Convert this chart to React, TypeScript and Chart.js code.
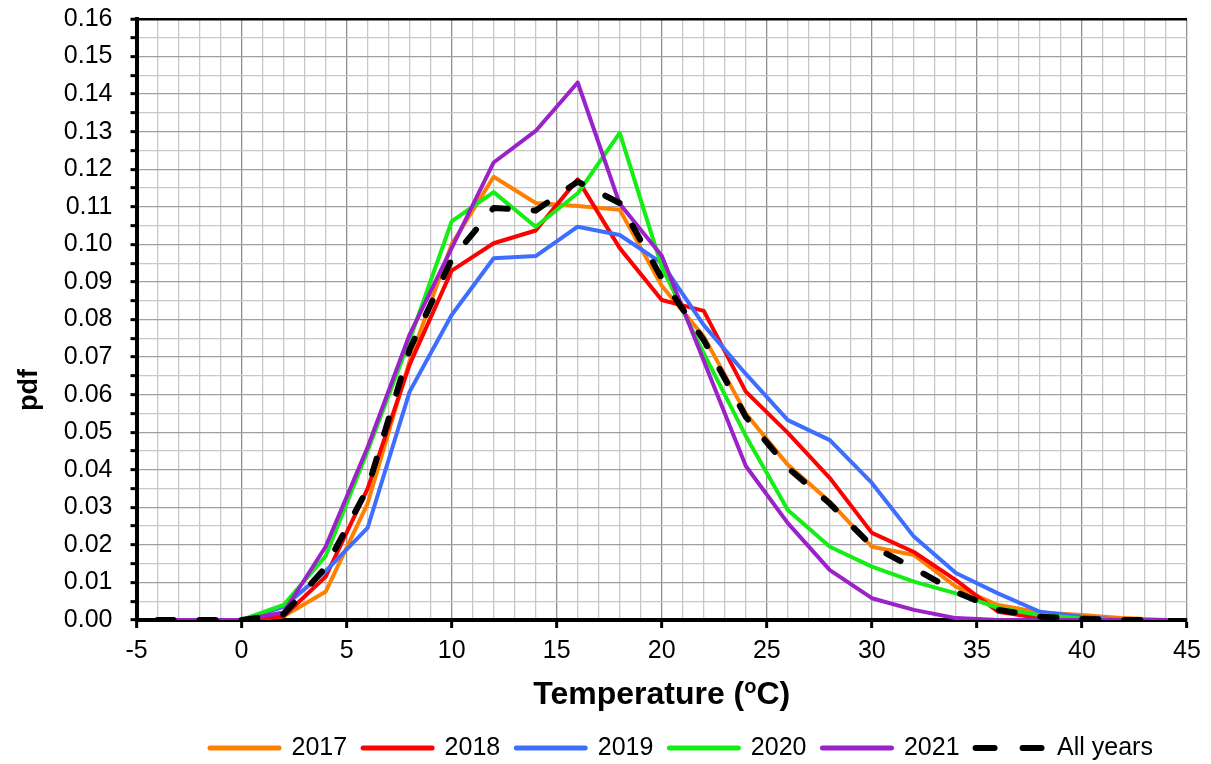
import { useEffect, useRef } from 'react';
import { Chart, registerables } from 'chart.js';

Chart.register(...registerables);

const temps = [-4, -2, 0, 2, 4, 6, 8, 10, 12, 14, 16, 18, 20, 22, 24, 26, 28, 30, 32, 34, 36, 38, 40, 42, 44];

const pdf2017 = [0, 0, 0, 0.001, 0.0075, 0.031, 0.069, 0.1, 0.118, 0.111, 0.1102, 0.1092, 0.089, 0.0755, 0.055, 0.0413, 0.0315, 0.0195, 0.0173, 0.0089, 0.004, 0.002, 0.0013, 0.0005, 0];
const pdf2018 = [0, 0, 0, 0.001, 0.0115, 0.035, 0.068, 0.093, 0.1003, 0.1037, 0.1173, 0.099, 0.0852, 0.0823, 0.0608, 0.0498, 0.0378, 0.0232, 0.0181, 0.0106, 0.0022, 0.0005, 0, 0, 0];
const pdf2019 = [0, 0, 0, 0.0035, 0.013, 0.0245, 0.0608, 0.0812, 0.0963, 0.0969, 0.1047, 0.1025, 0.095, 0.0785, 0.0655, 0.0532, 0.0479, 0.0365, 0.0222, 0.0125, 0.0071, 0.0022, 0.0009, 0, 0];
const pdf2020 = [0, 0, 0, 0.004, 0.017, 0.045, 0.0745, 0.1061, 0.1139, 0.1047, 0.1136, 0.1297, 0.094, 0.071, 0.049, 0.0293, 0.0195, 0.0142, 0.0102, 0.0071, 0.0032, 0.0013, 0.0004, 0, 0];
const pdf2021 = [0, 0, 0, 0.002, 0.0195, 0.046, 0.076, 0.099, 0.1218, 0.1302, 0.1431, 0.1108, 0.097, 0.069, 0.041, 0.0258, 0.0133, 0.0058, 0.0027, 0.0005, 0, 0, 0, 0, 0];
const pdfAll = [0, 0, 0, 0.0015, 0.014, 0.035, 0.072, 0.096, 0.1097, 0.109, 0.1167, 0.111, 0.091, 0.0745, 0.0541, 0.0405, 0.031, 0.0197, 0.0138, 0.0075, 0.0027, 0.0009, 0.0003, 0, 0];

const seriesNames = ['2017', '2018', '2019', '2020', '2021', 'All years'];
const seriesValues = [pdf2017, pdf2018, pdf2019, pdf2020, pdf2021, pdfAll];
const seriesColors = ['#FF8000', '#FF0000', '#3D6EFF', '#14EE14', '#9A22C8', '#000000'];

const xMin = -5;
const xMax = 45;
const yMin = 0;
const yMax = 0.16;

const FONT = '"Liberation Sans", Arial, Helvetica, sans-serif';

const titlesPlugin = {
  id: 'customTitles',
  afterLayout(chart: any) {
    const lg = chart.legend;
    if (lg) {
      const h = lg.height;
      lg.left = 194;
      lg.right = 1211;
      lg.width = lg.right - lg.left;
      lg.top = 719.5;
      lg.bottom = lg.top + h;
    }
  },
  afterDraw(chart: any) {
    const ctx = chart.ctx as CanvasRenderingContext2D;
    ctx.save();
    ctx.fillStyle = '#000';
    ctx.translate(30, 390);
    ctx.rotate(-Math.PI / 2);
    ctx.font = `bold 27px ${FONT}`;
    ctx.textAlign = 'center';
    ctx.textBaseline = 'middle';
    ctx.fillText('pdf', 0, 0);
    ctx.restore();

    ctx.save();
    ctx.fillStyle = '#000';
    const mainFont = `bold 32px ${FONT}`;
    const supFont = `bold 20px ${FONT}`;
    const a = 'Temperature (';
    const b = 'o';
    const c = 'C)';
    ctx.font = mainFont;
    const wa = ctx.measureText(a).width;
    const wc = ctx.measureText(c).width;
    ctx.font = supFont;
    const wb = ctx.measureText(b).width;
    const total = wa + wb + wc;
    const cx = (chart.chartArea.left + chart.chartArea.right) / 2;
    let x = cx - total / 2;
    const base = 704;
    ctx.textAlign = 'left';
    ctx.textBaseline = 'alphabetic';
    ctx.font = mainFont;
    ctx.fillText(a, x, base);
    x += wa;
    ctx.font = supFont;
    ctx.fillText(b, x, base - 11);
    x += wb;
    ctx.font = mainFont;
    ctx.fillText(c, x, base);
    ctx.restore();
  },
};

export default function App() {
  const canvasRef = useRef<HTMLCanvasElement | null>(null);

  useEffect(() => {
    const canvas = canvasRef.current;
    if (!canvas) return;

    const datasets = seriesNames.map((name, i) => {
      const isAll = i === seriesNames.length - 1;
      return {
        label: name,
        data: temps.map((t, j) => ({ x: t, y: seriesValues[i][j] })),
        borderColor: seriesColors[i],
        backgroundColor: seriesColors[i],
        borderWidth: isAll ? 6 : 4,
        borderDash: isAll ? [16, 26] : [],
        borderCapStyle: 'round' as const,
        borderJoinStyle: 'round' as const,
        pointRadius: 0,
        pointHoverRadius: 0,
        tension: 0,
        fill: false,
        order: seriesNames.length - i,
      };
    });

    const chart = new Chart(canvas, {
      type: 'line',
      data: { datasets },
      plugins: [titlesPlugin],
      options: {
        animation: false,
        responsive: false,
        devicePixelRatio: 1,
        parsing: false as any,
        layout: { padding: { left: 0, right: 24, top: 19, bottom: 0 } },
        plugins: {
          tooltip: { enabled: false },
          title: { display: false },
          legend: {
            display: true,
            position: 'bottom',
            align: 'start',
            labels: {
              usePointStyle: true,
              pointStyleWidth: 69,
              padding: 16,
              color: '#000',
              font: { family: FONT, size: 25 },
              generateLabels: () =>
                seriesNames.map((name, i) => {
                  const isAll = i === seriesNames.length - 1;
                  return {
                    text: name,
                    fillStyle: seriesColors[i],
                    strokeStyle: seriesColors[i],
                    lineWidth: isAll ? 6 : 5,
                    lineDash: isAll ? [19, 28] : [],
                    lineCap: 'round',
                    pointStyle: 'line',
                    hidden: false,
                    datasetIndex: i,
                    fontColor: '#000',
                  } as any;
                }),
            },
          },
        },
        scales: {
          x: {
            type: 'linear',
            min: xMin,
            max: xMax,
            afterFit: (scale: any) => {
              scale.height = 93;
              scale.paddingLeft = 0;
              scale.paddingRight = 0;
            },
            ticks: {
              stepSize: 1,
              autoSkip: false,
              maxRotation: 0,
              minRotation: 0,
              padding: 8,
              color: '#000',
              font: { family: FONT, size: 25 },
              callback: (v: any) => (Math.round(Number(v)) % 5 === 0 ? String(Math.round(Number(v))) : ''),
            },
            grid: {
              drawOnChartArea: true,
              drawTicks: true,
              tickLength: 8,
              tickWidth: 3,
              color: (ctx: any) => (Math.round(ctx.tick.value) % 5 === 0 ? '#8f8f8f' : '#c8c8c8'),
              lineWidth: 1.3,
              tickColor: (ctx: any) => (Math.round(ctx.tick.value) % 5 === 0 ? '#000' : 'rgba(0,0,0,0)'),
            },
            border: { display: true, color: '#000', width: 4 },
          },
          y: {
            type: 'linear',
            min: yMin,
            max: yMax,
            afterFit: (scale: any) => {
              scale.width = 136.5;
              scale.paddingTop = 0;
              scale.paddingBottom = 0;
            },
            ticks: {
              stepSize: 0.005,
              autoSkip: false,
              padding: 18,
              color: '#000',
              font: { family: FONT, size: 25 },
              callback: (v: any) => {
                const k = Math.round(Number(v) * 1000);
                return k % 10 === 0 ? (k / 1000).toFixed(2) : '';
              },
            },
            grid: {
              drawOnChartArea: true,
              drawTicks: true,
              tickLength: 6,
              tickWidth: 3,
              color: (ctx: any) => {
                const k = Math.round(ctx.tick.value * 1000);
                if (k === 160) return '#000';
                return k % 10 === 0 ? '#a0a0a0' : '#c8c8c8';
              },
              lineWidth: (ctx: any) => (Math.round(ctx.tick.value * 1000) === 160 ? 2.5 : 1.3),
              tickColor: '#000',
            },
            border: { display: true, color: '#000', width: 4 },
          },
        },
      },
    });

    return () => {
      chart.destroy();
    };
  }, []);

  return (
    <div style={{ position: 'absolute', left: 0, top: 0, width: 1211, height: 764, background: '#fff' }}>
      <canvas ref={canvasRef} width={1211} height={764} style={{ display: 'block', width: 1211, height: 764 }} />
    </div>
  );
}
